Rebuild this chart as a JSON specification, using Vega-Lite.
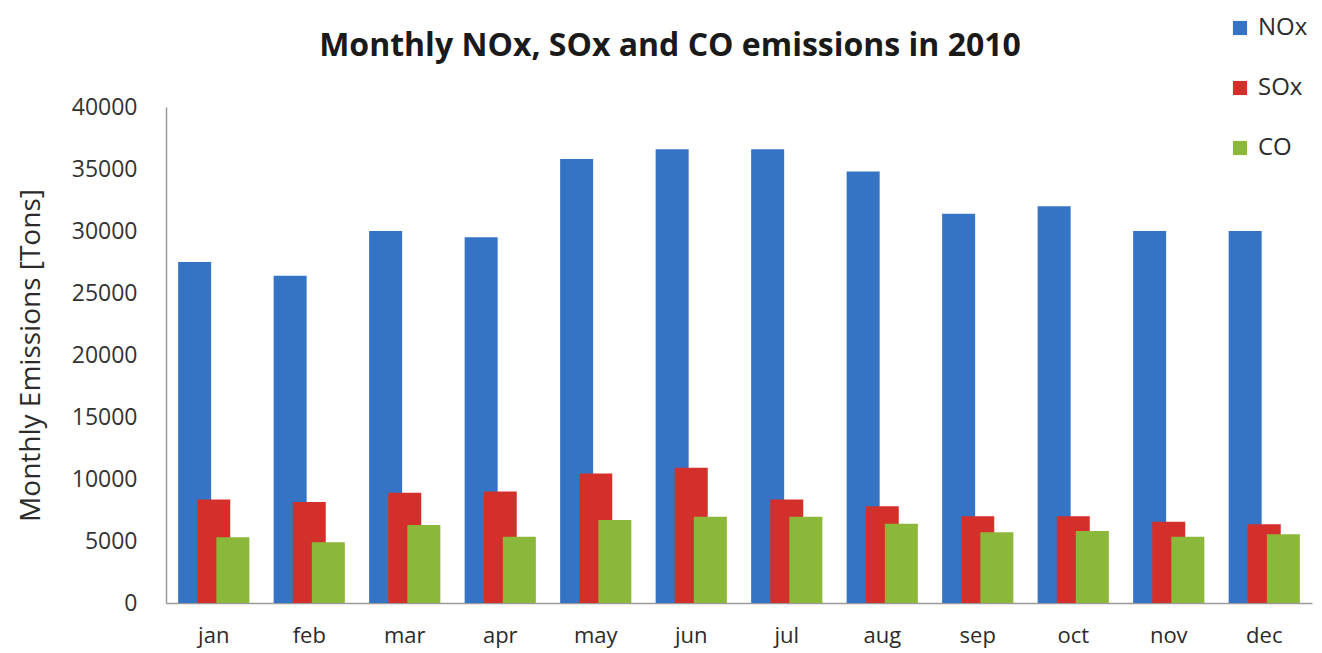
{
  "$schema": "https://vega.github.io/schema/vega-lite/v6.json",
  "width": 1146,
  "height": 496,
  "autosize": {"type": "none"},
  "padding": {"left": 166, "top": 107, "right": 10, "bottom": 50},
  "background": "white",
  "title": {
    "text": "Monthly NOx, SOx and CO emissions in 2010",
    "font": "Open Sans",
    "fontSize": 32,
    "fontWeight": "bold",
    "color": "#1a1a1a",
    "anchor": "middle",
    "frame": "group",
    "dx": -69,
    "offset": -47
  },
  "data": {
    "values": [
      {"month": "jan", "pollutant": "NOx", "tons": 27500},
      {"month": "feb", "pollutant": "NOx", "tons": 26400},
      {"month": "mar", "pollutant": "NOx", "tons": 30000},
      {"month": "apr", "pollutant": "NOx", "tons": 29500},
      {"month": "may", "pollutant": "NOx", "tons": 35800},
      {"month": "jun", "pollutant": "NOx", "tons": 36600},
      {"month": "jul", "pollutant": "NOx", "tons": 36600},
      {"month": "aug", "pollutant": "NOx", "tons": 34800},
      {"month": "sep", "pollutant": "NOx", "tons": 31400},
      {"month": "oct", "pollutant": "NOx", "tons": 32000},
      {"month": "nov", "pollutant": "NOx", "tons": 30000},
      {"month": "dec", "pollutant": "NOx", "tons": 30000},
      {"month": "jan", "pollutant": "SOx", "tons": 8350},
      {"month": "feb", "pollutant": "SOx", "tons": 8150},
      {"month": "mar", "pollutant": "SOx", "tons": 8900},
      {"month": "apr", "pollutant": "SOx", "tons": 9000},
      {"month": "may", "pollutant": "SOx", "tons": 10450},
      {"month": "jun", "pollutant": "SOx", "tons": 10900},
      {"month": "jul", "pollutant": "SOx", "tons": 8350},
      {"month": "aug", "pollutant": "SOx", "tons": 7800},
      {"month": "sep", "pollutant": "SOx", "tons": 7000},
      {"month": "oct", "pollutant": "SOx", "tons": 7000},
      {"month": "nov", "pollutant": "SOx", "tons": 6550},
      {"month": "dec", "pollutant": "SOx", "tons": 6350},
      {"month": "jan", "pollutant": "CO", "tons": 5300},
      {"month": "feb", "pollutant": "CO", "tons": 4900},
      {"month": "mar", "pollutant": "CO", "tons": 6300},
      {"month": "apr", "pollutant": "CO", "tons": 5350},
      {"month": "may", "pollutant": "CO", "tons": 6700},
      {"month": "jun", "pollutant": "CO", "tons": 6950},
      {"month": "jul", "pollutant": "CO", "tons": 6950},
      {"month": "aug", "pollutant": "CO", "tons": 6400},
      {"month": "sep", "pollutant": "CO", "tons": 5700},
      {"month": "oct", "pollutant": "CO", "tons": 5800},
      {"month": "nov", "pollutant": "CO", "tons": 5350},
      {"month": "dec", "pollutant": "CO", "tons": 5550}
    ]
  },
  "mark": {"type": "bar", "width": 33},
  "encoding": {
    "x": {
      "field": "month",
      "type": "nominal",
      "sort": ["jan", "feb", "mar", "apr", "may", "jun", "jul", "aug", "sep", "oct", "nov", "dec"],
      "scale": {"paddingInner": 0.4, "paddingOuter": 0.2},
      "axis": {
        "title": null,
        "labelAngle": 0,
        "labelFont": "Open Sans",
        "labelFontSize": 22,
        "labelColor": "#2b2b2b",
        "labelPadding": 22,
        "ticks": false,
        "domainColor": "#9a9a9a",
        "domainWidth": 1.5
      }
    },
    "xOffset": {
      "field": "pollutant",
      "type": "nominal",
      "sort": ["NOx", "SOx", "CO"],
      "scale": {"paddingInner": 0, "paddingOuter": 0}
    },
    "y": {
      "field": "tons",
      "type": "quantitative",
      "scale": {"domain": [0, 40000]},
      "axis": {
        "title": "Monthly Emissions [Tons]",
        "titleFont": "Open Sans",
        "titleFontSize": 28,
        "titleFontWeight": "normal",
        "titleColor": "#2b2b2b",
        "titlePadding": 26,
        "values": [0, 5000, 10000, 15000, 20000, 25000, 30000, 35000, 40000],
        "format": "d",
        "labelFont": "Open Sans",
        "labelFontSize": 23,
        "labelColor": "#333333",
        "labelPadding": 29,
        "ticks": false,
        "grid": false,
        "domainColor": "#9a9a9a",
        "domainWidth": 1.5
      }
    },
    "color": {
      "field": "pollutant",
      "type": "nominal",
      "sort": ["NOx", "SOx", "CO"],
      "scale": {"domain": ["NOx", "SOx", "CO"], "range": ["#3573c5", "#d4302b", "#8bb83a"]},
      "legend": {
        "title": null,
        "orient": "none",
        "legendX": 1062,
        "legendY": -91,
        "symbolType": "square",
        "symbolSize": 200,
        "symbolStrokeWidth": 0,
        "labelFont": "Open Sans",
        "labelFontSize": 24,
        "labelColor": "#2b2b2b",
        "rowPadding": 36,
        "labelOffset": 6
      }
    }
  },
  "config": {"view": {"stroke": null}}
}
